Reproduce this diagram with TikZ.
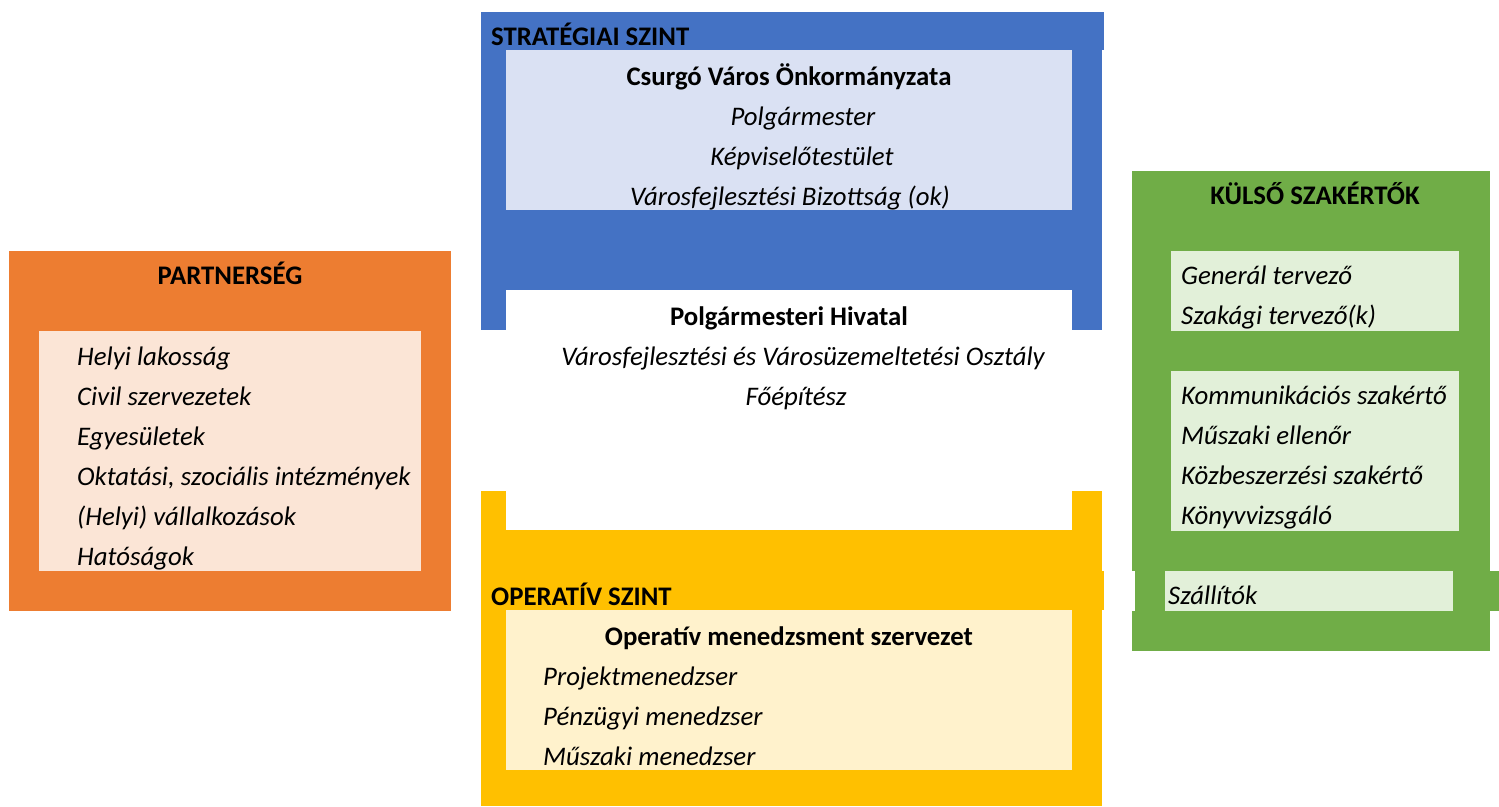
\documentclass[tikz,border=0pt]{standalone}
\usepackage{fontspec}
\setmainfont{Carlito}
\definecolor{sblue}{HTML}{4472C4}
\definecolor{sbluel}{HTML}{DAE1F3}
\definecolor{syel}{HTML}{FFC000}
\definecolor{syell}{HTML}{FFF2CC}
\definecolor{sorg}{HTML}{ED7D31}
\definecolor{sorgl}{HTML}{FBE5D6}
\definecolor{sgrn}{HTML}{70AD47}
\definecolor{sgrnl}{HTML}{E2F0D9}
\tikzset{
  txt/.style={inner sep=0pt, font=\fontsize{26.8}{32}\selectfont\itshape},
  ttl/.style={inner sep=0pt, font=\fontsize{26.8}{32}\selectfont\bfseries},
}
\begin{document}
\begin{tikzpicture}[x=1pt,y=-1pt]
\useasboundingbox (0,0) rectangle (1499,806);
% blue block
\fill[sblue] (481,12) rectangle (1102,330);
\fill[sblue] (481,12) rectangle (1104,50);
\fill[sbluel] (506,50) rectangle (1072,210);
\fill[white] (506,290) rectangle (1072,330);
% yellow block
\fill[syel] (481,491) rectangle (1102,806);
\fill[white] (506,491) rectangle (1072,530);
\fill[syel] (481,571) rectangle (1104,610);
\fill[syell] (506,610) rectangle (1072,770);
% orange block
\fill[sorg] (9,251) rectangle (451,611);
\fill[sorgl] (39,331) rectangle (421,571);
% green block
\fill[sgrn] (1132,171) rectangle (1490,651);
\fill[white] (1132,571) rectangle (1135,611);
\fill[sgrn] (1135,571) rectangle (1499,611);
\fill[sgrnl] (1171,251) rectangle (1459,331);
\fill[sgrnl] (1171,371) rectangle (1459,531);
\fill[sgrnl] (1165,571) rectangle (1453,611);

% strategic texts
\node[ttl, anchor=base west] (strat) at (491,45) {STRATÉGIAI SZINT};
\node[ttl, anchor=base] (csurgo) at (789,85) {Csurgó Város Önkormányzata};
\node[txt, anchor=base] (polg) at (803,125) {Polgármester};
\node[txt, anchor=base] (kepv) at (802,165) {Képviselőtestület};
\node[txt, anchor=base] (bizott) at (790,205) {Városfejlesztési Bizottság (ok)};
\node[ttl, anchor=base] (hivatal) at (789,325) {Polgármesteri Hivatal};
\node[txt, anchor=base] (osztaly) at (803,365) {Városfejlesztési és Városüzemeltetési Osztály};
\node[txt, anchor=base] (foep) at (796,405) {Főépítész};

% operative texts
\node[ttl, anchor=base west] (oper) at (491,605) {OPERATÍV SZINT};
\node[ttl, anchor=base] (omsz) at (789,645) {Operatív menedzsment szervezet};
\node[txt, anchor=base west] (projm) at (543,685) {Projektmenedzser};
\node[txt, anchor=base west] (penzm) at (543,725) {Pénzügyi menedzser};
\node[txt, anchor=base west] (muszm) at (543,765) {Műszaki menedzser};

% partnership texts
\node[ttl, anchor=base] (partner) at (230,284) {PARTNERSÉG};
\node[txt, anchor=base west] (p1) at (77,365) {Helyi lakosság};
\node[txt, anchor=base west] (p2) at (77,405) {Civil szervezetek};
\node[txt, anchor=base west] (p3) at (77,445) {Egyesületek};
\node[txt, anchor=base west] (p4) at (77,485) {Oktatási, szociális intézmények};
\node[txt, anchor=base west] (p5) at (77,525) {(Helyi) vállalkozások};
\node[txt, anchor=base west] (p6) at (77,565) {Hatóságok};

% external experts texts
\node[ttl, anchor=base] (kulso) at (1315,204) {KÜLSŐ SZAKÉRTŐK};
\node[txt, anchor=base west] (k1) at (1181,284) {Generál tervező};
\node[txt, anchor=base west] (k2) at (1181,324) {Szakági tervező(k)};
\node[txt, anchor=base west] (k3) at (1181,404) {Kommunikációs szakértő};
\node[txt, anchor=base west] (k4) at (1181,444) {Műszaki ellenőr};
\node[txt, anchor=base west] (k5) at (1181,484) {Közbeszerzési szakértő};
\node[txt, anchor=base west] (k6) at (1181,524) {Könyvvizsgáló};
\node[txt, anchor=base west] (k7) at (1168,604) {Szállítók};
\end{tikzpicture}
\end{document}
